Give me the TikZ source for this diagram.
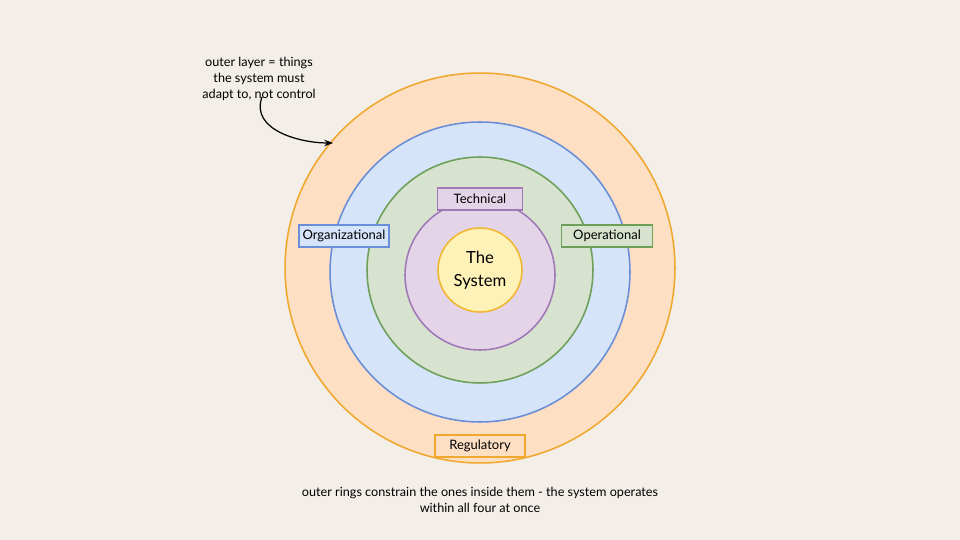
\documentclass[tikz,border=0pt]{standalone}
\usepackage{fontspec}
\setmainfont{Lato}
\usetikzlibrary{positioning,arrows.meta}
\definecolor{bg}{HTML}{F3EEE8}
\definecolor{orfill}{HTML}{FDDFC4}
\definecolor{orline}{HTML}{F0A830}
\definecolor{blfill}{HTML}{D6E4FA}
\definecolor{blline}{HTML}{6A8FD8}
\definecolor{grfill}{HTML}{D7E3CF}
\definecolor{grline}{HTML}{6FA05A}
\definecolor{pufill}{HTML}{E4D4E8}
\definecolor{puline}{HTML}{A07AB8}
\definecolor{yefill}{HTML}{FFF2B8}
\definecolor{yeline}{HTML}{F0B830}
\tikzset{
  ring/.style={circle,draw,line width=0.9pt,inner sep=0pt},
  tag/.style={draw,line width=0.8pt,minimum height=0.44cm,inner sep=2pt,font=\fontsize{7.4}{9}\selectfont},
  note/.style={align=center,font=\fontsize{7.2}{9.2}\selectfont}
}
\begin{document}
\begin{tikzpicture}[x=0.02cm,y=-0.02cm]
\fill[bg] (0,0) rectangle (960,540);
\useasboundingbox (0,0) rectangle (960,540);
% rings
\node[ring,fill=orfill,draw=orline,minimum size=7.8cm] (regulatory) at (480,268) {};
\node[ring,fill=blfill,draw=blline,minimum size=6.0cm] (organizational) at (480,272) {};
\node[ring,fill=grfill,draw=grline,minimum size=4.52cm] (operational) at (480,270) {};
\node[ring,fill=pufill,draw=puline,minimum size=3.0cm] (technical) at (480,275) {};
\node[ring,fill=yefill,draw=yeline,minimum size=1.68cm,align=center,font=\fontsize{9.5}{13}\selectfont] (system) at (480,270) {The\\System};
% labels
\node[tag,fill=pufill,draw=puline,minimum width=1.7cm] (techtag) at (480,199) {Technical};
\node[tag,fill=blfill,draw=blline,minimum width=1.78cm] (orgtag) at (344,236) {Organizational};
\node[tag,fill=grfill,draw=grline,minimum width=1.82cm] (optag) at (607,236) {Operational};
\node[tag,fill=orfill,draw=orline,minimum width=1.8cm] (regtag) at (480,446) {Regulatory};
% annotation
\node[note] (outernote) at (259,79) {outer layer = things\\the system must\\adapt to, not control};
\coordinate (hit) at (333,143);
\draw[-{Stealth[length=5pt]},line width=0.7pt] (262,97) .. controls (250,130) and (300,143) .. (hit);
\node[note] (caption) at (480,500) {outer rings constrain the ones inside them - the system operates\\within all four at once};
\end{tikzpicture}
\end{document}
